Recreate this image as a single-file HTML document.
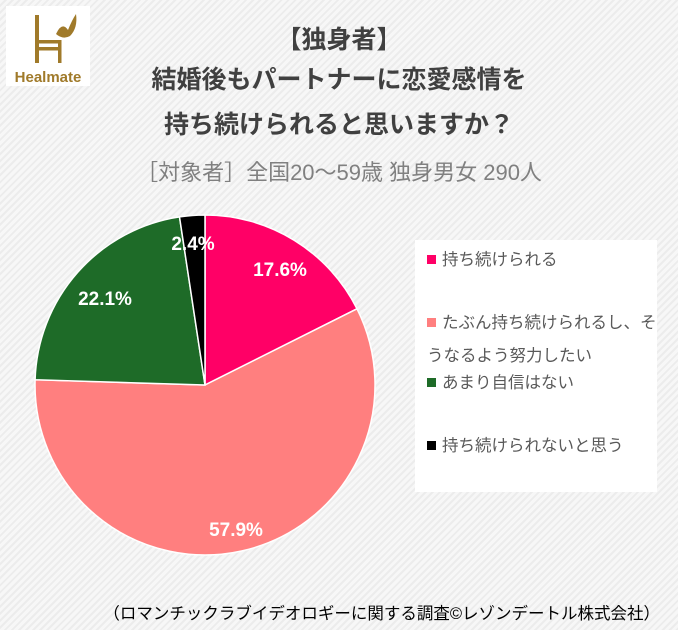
<!DOCTYPE html>
<html><head><meta charset="utf-8"><style>
body{margin:0;width:678px;height:630px;overflow:hidden;font-family:"Liberation Sans","Noto Sans CJK JP",sans-serif;
background:repeating-linear-gradient(135deg,#f7f7f7 0 3px,#ececec 3px 5px);}
.t{position:absolute;left:0;width:678px;text-align:center;color:#404040;font-weight:bold;font-size:25px;}
.leg{position:absolute;left:415px;top:240px;width:242px;height:252px;background:#fff;}
.li{position:absolute;left:12px;font-size:16.5px;color:#595959;line-height:33px;white-space:nowrap}
.sq{display:inline-block;width:9px;height:9px;margin-right:6px;vertical-align:1px;}
</style></head><body>
<div style="position:absolute;left:6px;top:6px;width:84px;height:80px;background:#fff"></div>
<svg style="position:absolute;left:6px;top:6px" width="84" height="80">
<g fill="#a07a2a">
<rect x="29" y="9" width="4" height="48"/><rect x="29" y="34" width="26" height="3.5"/><rect x="29" y="41" width="26" height="3.5"/><rect x="52" y="34" width="3.5" height="23"/>
<path d="M50 28 Q56 15 62 24 Q66 14 70 8 Q72 22 64 30 Q57 34 50 28Z"/>
</g>
<text x="42" y="76" text-anchor="middle" font-size="15" font-weight="bold" fill="#a07a2a" font-family="Liberation Sans">Healmate</text>
</svg>
<div class="t" style="top:20px">【独身者】</div>
<div class="t" style="top:60px">結婚後もパートナーに恋愛感情を</div>
<div class="t" style="top:105px">持ち続けられると思いますか？</div>
<div style="position:absolute;top:155px;left:0;width:678px;text-align:center;color:#808080;font-size:22px">［対象者］全国20～59歳 独身男女 290人</div>
<svg style="position:absolute;left:0;top:0" width="678" height="630">
<g stroke="#fff" stroke-width="1.5">
<path d="M205 385 L205 215 A170 170 0 0 1 357 308.8Z" fill="#ff0066"/>
<path d="M205 385 L357 308.8 A170 170 0 1 1 35.1 379.7Z" fill="#ff7f7f"/>
<path d="M205 385 L35.1 379.7 A170 170 0 0 1 179.5 216.9Z" fill="#1e6b28"/>
<path d="M205 385 L179.5 216.9 A170 170 0 0 1 205 215Z" fill="#000"/>
</g>
<g fill="#fff" font-weight="bold" font-size="19" text-anchor="middle" font-family="Liberation Sans">
<text x="280" y="276">17.6%</text>
<text x="236" y="536">57.9%</text>
<text x="105" y="305">22.1%</text>
<text x="193" y="250">2.4%</text>
</g>
</svg>
<div class="leg">
<div class="li" style="top:4px"><span class="sq" style="background:#ff0066"></span>持ち続けられる</div>
<div class="li" style="top:67px"><span class="sq" style="background:#ff7f7f"></span>たぶん持ち続けられるし、そ<br>うなるよう努力したい</div>
<div class="li" style="top:127px"><span class="sq" style="background:#1e6b28"></span>あまり自信はない</div>
<div class="li" style="top:190px"><span class="sq" style="background:#000"></span>持ち続けられないと思う</div>
</div>
<div style="position:absolute;right:18px;top:600px;font-size:16.5px;color:#000">（ロマンチックラブイデオロギーに関する調査©レゾンデートル株式会社）</div>
</body></html>
